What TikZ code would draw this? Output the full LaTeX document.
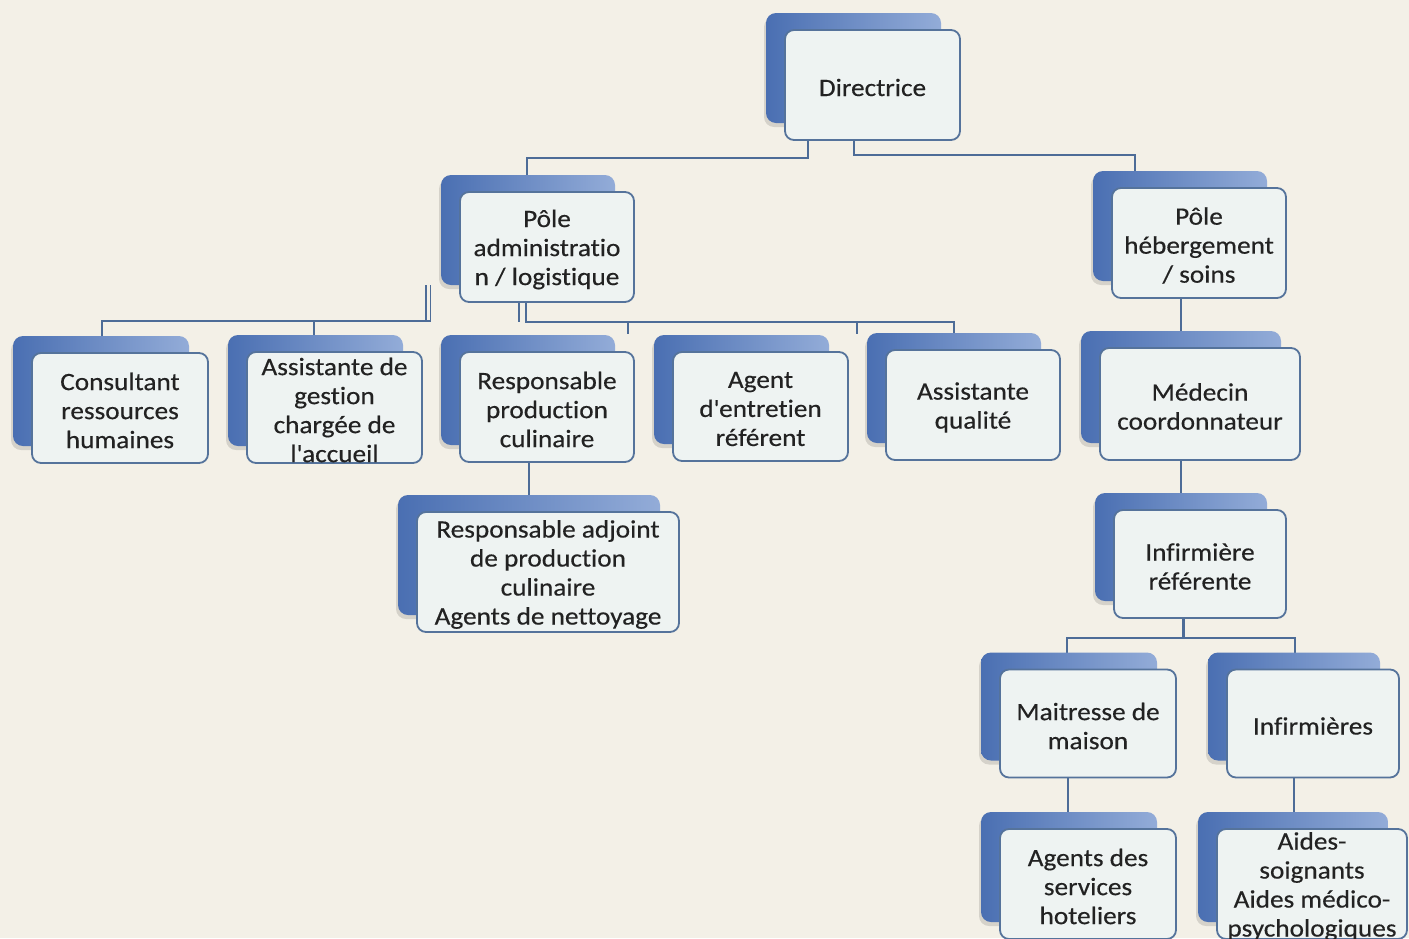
\documentclass[tikz,border=0pt]{standalone}
\usepackage{fontspec}
\setmainfont{Carlito}[Ligatures=NoCommon, FakeStretch=1.09, FakeBold=0.4]
\usetikzlibrary{calc}
\definecolor{bgc}{HTML}{F3F0E7}
\definecolor{boxfill}{HTML}{EEF3F2}
\definecolor{boxline}{HTML}{55739B}
\definecolor{shD}{HTML}{4A6FB2}
\definecolor{shL}{HTML}{93ACD8}
\definecolor{linec}{HTML}{4D6C97}
\definecolor{txtc}{HTML}{222222}
\pgfdeclarelayer{bg}
\pgfsetlayers{bg,main}
\tikzset{
  wbox/.style={draw=boxline, line width=1.8pt, fill=boxfill, rounded corners=9pt, inner sep=0pt},
  txt/.style={align=center, text=txtc, inner sep=0pt, font=\fontsize{25}{29}\selectfont},
  conn/.style={draw=linec, line width=1.8pt},
  shadowbox/.style={left color=shD, right color=shL, rounded corners=10pt},
}
% name, cx, cy, w, h, text
\newcommand\obox[6]{%
  \fill[black, opacity=0.12, rounded corners=10pt] ({#2-#4/2-21},{#3-#5/2-13}) rectangle ++(#4,#5);
  \shade[shadowbox] ({#2-#4/2-19},{#3-#5/2-17}) rectangle ++(#4,#5);
  \node[wbox, minimum width=#4pt, minimum height=#5pt] (#1) at (#2,#3) {};
  \node[txt] (#1-t) at ([yshift=-2.5pt]#1.center) {#6};
}
\begin{document}
\begin{tikzpicture}[x=1pt, y=-1pt]
\useasboundingbox (0,0) rectangle (1409,938);
\begin{pgfonlayer}{bg}
\fill[bgc] (0,0) rectangle (1409,938);
\end{pgfonlayer}

\obox{dir}{872.5}{85}{175}{110}{Directrice}
\obox{adm}{547}{247}{174}{110}{Pôle\\administratio\\n / logistique}
\obox{heb}{1199}{243}{174}{110}{Pôle\\hébergement\\/ soins}
\obox{cons}{120}{408}{176}{110}{Consultant\\ressources\\humaines}
\obox{asg}{334.5}{407.5}{175}{111}{Assistante de\\gestion\\chargée de\\l\textquotesingle accueil}
\obox{rpc}{547}{407}{174}{110}{Responsable\\production\\culinaire}
\obox{age}{760.5}{406.5}{175}{109}{Agent\\d\textquotesingle entretien\\référent}
\obox{asq}{973}{405}{174}{110}{Assistante\\qualité}
\obox{med}{1200}{404}{200}{112}{Médecin\\coordonnateur}
\obox{rad}{548}{572}{262}{120}{Responsable adjoint\\de production\\culinaire\\Agents de nettoyage}
\obox{inf}{1200}{564}{172}{108}{Infirmière\\référente}
\obox{mai}{1088}{723.5}{176}{108}{Maitresse de\\maison}
\obox{infs}{1313}{723.5}{172}{108}{Infirmières}
\obox{asv}{1088}{884}{176}{110}{Agents des\\services\\hoteliers}
\obox{aid}{1312}{884}{190}{110}{Aides-\\soignants\\Aides médico-\\psychologiques}

\coordinate (admA) at (426,285);
\coordinate (admB) at (430.5,285);
\coordinate (jL) at (314,321);
\coordinate (jR1) at (628,322);
\coordinate (jR2) at (857,322);
\coordinate (jI) at (1183,638);

\begin{pgfonlayer}{bg}
\draw[conn] (dir.south -| 808,0) -- (808,158) -| (adm.north -| 527,0);
\draw[conn] (dir.south -| 854,0) -- (854,155) -| (heb.north -| 1135,0);
% left group from Pôle administration
\draw[conn] (admA) -- (426,321);
\draw[conn] (admB) -- (430.5,321) -| (cons.north -| 102,0);
\draw[conn] (jL) -- (asg.north -| 314,0);
% right group from Pôle administration
\draw[conn] (adm.south -| 519,0) -- (519,322);
\draw[conn] (adm.south -| 526,0) -- (526,322) -| (asq.north -| 954,0);
\draw[conn] (jR1) -- (628,334);
\draw[conn] (jR2) -- (857,334);
\draw[conn] (rpc.south -| 529,0) -- (rad.north -| 529,0);
% right column
\draw[conn] (heb.south -| 1181,0) -- (med.north -| 1181,0);
\draw[conn] (med.south -| 1181,0) -- (inf.north -| 1181,0);
\draw[conn, line width=3pt] (inf.south -| 1183,0) -- (jI);
\draw[conn] (mai.north -| 1067,0) |- (jI) -| (infs.north -| 1295,0);
\draw[conn] (mai.south -| 1068,0) -- (asv.north -| 1068,0);
\draw[conn] (infs.south -| 1294,0) -- (aid.north -| 1294,0);
\end{pgfonlayer}
\end{tikzpicture}
\end{document}
